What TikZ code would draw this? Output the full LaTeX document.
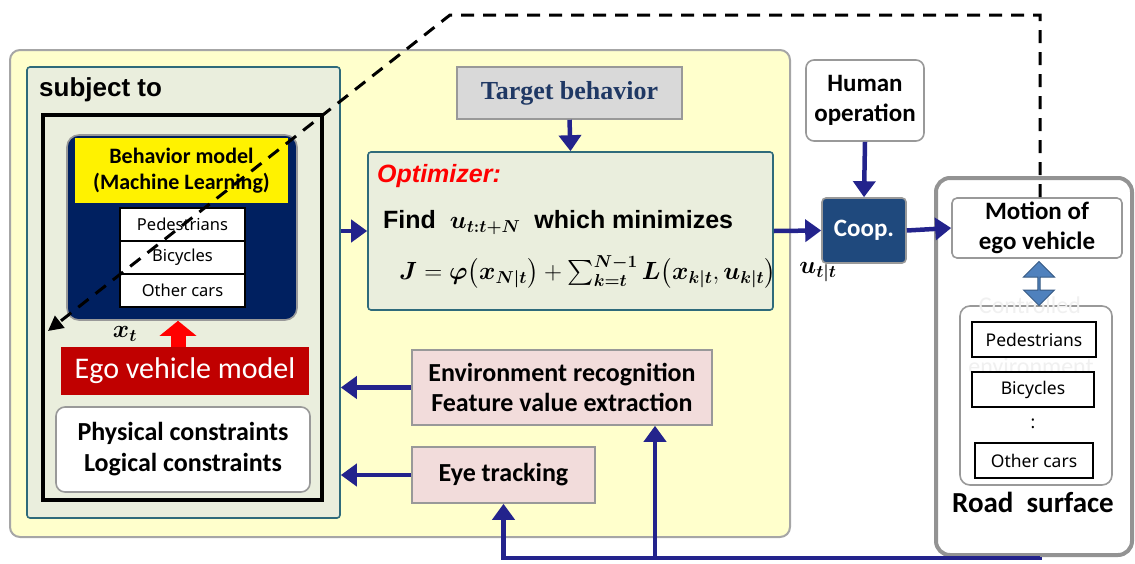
\documentclass[tikz,border=0pt]{standalone}
\usepackage{fontspec}
\setmainfont{Carlito}
\newfontfamily\arialfont{Liberation Sans}
\newfontfamily\timesfont{Liberation Serif}
\newfontfamily\listfont{Noto Sans}
\usepackage{amsmath,bm}
\usetikzlibrary{arrows.meta, positioning, shapes.arrows, calc}
\definecolor{paneyellow}{HTML}{FFFFCC}
\definecolor{subjfill}{HTML}{EAEEDD}
\definecolor{tealline}{HTML}{2F6B7B}
\definecolor{mlnavy}{HTML}{002060}
\definecolor{egored}{HTML}{C00000}
\definecolor{tgttext}{HTML}{1F3864}
\definecolor{coopblue}{HTML}{1F497D}
\definecolor{recogfill}{HTML}{F2DCDB}
\definecolor{flownavy}{HTML}{23238C}
\definecolor{swapblue}{HTML}{4F81BD}
\tikzset{
    panel/.style={
        rectangle,
        rounded corners=10pt,
        draw=gray!70,
        line width=2pt,
        fill=paneyellow
    },
    greenbox/.style={
        rectangle,
        rounded corners=3pt,
        draw=tealline,
        line width=1.6pt,
        fill=subjfill
    },
    whitebox/.style={
        rectangle,
        rounded corners=6pt,
        draw=gray!80,
        line width=1.6pt,
        fill=white,
        align=center,
        font=\bfseries\fontsize{25}{30}\selectfont
    },
    listrow/.style={
        rectangle,
        draw=black,
        line width=1.2pt,
        fill=white,
        font=\listfont\fontsize{16.5}{19}\selectfont
    },
    pinkbox/.style={
        rectangle,
        draw=gray!80,
        line width=1.6pt,
        fill=recogfill,
        align=center,
        font=\bfseries\fontsize{26}{30}\selectfont
    },
    flow/.style={
        -{Triangle[length=16pt, width=22pt]},
        line width=4.5pt,
        draw=flownavy
    }
}

\begin{document}
\begin{tikzpicture}[
    x=1pt, y=-1pt,
    every node/.style={inner sep=0pt},
    dasharrow/.style={-{Triangle[length=15pt, width=15pt]}, line width=3pt, dash pattern=on 13pt off 9pt},
    bigred/.style={-{Triangle[length=15pt, width=36pt]}, line width=15pt, draw=red},
    ghost/.style={text=black!6, font=\fontsize{24}{28}\selectfont}
]
\useasboundingbox (0,0) rectangle (1135,563);

% Prediction side
\node[panel, minimum width=780pt, minimum height=487pt] (panel) at (400,293.5) {};
\node[greenbox, minimum width=313pt, minimum height=451pt] (subj) at (183.5,292.5) {};
\node[font=\arialfont\bfseries\fontsize{26}{30}\selectfont, anchor=west] (subjlbl) at (39,90) {subject to};
\node[draw=black, line width=3.5pt, minimum width=279pt, minimum height=385pt] (model) at (182.5,307.5) {};

\node[rectangle, rounded corners=12pt, draw=gray!80, line width=1.6pt, fill=mlnavy, minimum width=230pt, minimum height=185pt] (navy) at (182,227.5) {};
\node[fill=yellow, minimum width=213pt, minimum height=65pt, align=center, font=\bfseries\fontsize{22}{26}\selectfont] (ml) at (181.5,170.5) {Behavior model\\(Machine Learning)};
\node[listrow, minimum width=125pt, minimum height=33pt] (mlped) at (182.5,224.5) {Pedestrians};
\node[listrow, minimum width=125pt, minimum height=33pt] (mlbic) at (182.5,257.5) {Bicycles};
\node[listrow, minimum width=125pt, minimum height=33pt] (mlcar) at (182.5,290.5) {Other cars};

\node[fill=egored, text=white, minimum width=248pt, minimum height=48pt, font=\fontsize{30}{34}\selectfont] (ego) at (185,371) {Ego vehicle model};
\node[whitebox, minimum width=254pt, minimum height=85pt, rounded corners=9pt, font=\bfseries\fontsize{26}{31}\selectfont] (phys) at (183,449.5) {Physical constraints\\Logical constraints};
\node[font=\fontsize{26}{30}\selectfont] (xt) at (125,334) {$\bm{x_t}$};
\draw[bigred] (ego.north -| 178,0) -- (navy.south -| 178,0);

% Optimizer
\node[rectangle, draw=gray!80, line width=1.6pt, fill=gray!30, minimum width=225pt, minimum height=52pt, font=\timesfont\bfseries\fontsize{26}{30}\selectfont, text=tgttext] (target) at (569.5,93) {Target behavior};
\node[greenbox, minimum width=405pt, minimum height=158pt] (opt) at (570.5,231) {};
\node[anchor=west, text=red, font=\arialfont\bfseries\itshape\fontsize{25}{29}\selectfont] (optlbl) at (377,176) {Optimizer:};
\node[anchor=north west, align=left, font=\arialfont\bfseries\fontsize{25}{51}\selectfont] (find) at (383,210)
    {Find\ \ $\bm{u_{t:t+N}}$\ \ which minimizes\\
     \hspace*{16pt}$\bm{J} = \bm{\varphi}\bigl(\bm{x}_{\bm{N|t}}\bigr) + \textstyle\sum_{\bm{k=t}}^{\bm{N-1}} \bm{L}\bigl(\bm{x}_{\bm{k|t}}, \bm{u}_{\bm{k|t}}\bigr)$};

\node[pinkbox, minimum width=300pt, minimum height=75pt] (recog) at (562,387.5) {Environment recognition\\Feature value extraction};
\node[pinkbox, minimum width=183pt, minimum height=56pt] (eye) at (503.5,475) {Eye tracking};

% Cooperation and road
\node[whitebox, minimum width=118pt, minimum height=81pt, rounded corners=8pt] (human) at (865,100.5) {Human\\operation};
\node[rectangle, rounded corners=4pt, draw=gray!80, line width=1.6pt, fill=coopblue, text=white, minimum width=84pt, minimum height=65pt, font=\bfseries\fontsize{25}{29}\selectfont] (coop) at (864,230.5) {Coop.};
\node[font=\fontsize{25}{29}\selectfont] (ut) at (818,272) {$\bm{u_{t|t}}$};

\node[rectangle, rounded corners=14pt, draw=gray!85, line width=4pt, fill=white, minimum width=196pt, minimum height=377pt] (road) at (1034,366.5) {};
\node[whitebox, minimum width=170pt, minimum height=60pt, rounded corners=5pt] (motion) at (1037,228) {Motion of\\ego vehicle};
\node[rectangle, rounded corners=10pt, draw=gray!80, line width=1.6pt, fill=white, minimum width=152pt, minimum height=179pt] (ctrlenv) at (1036,395.5) {};
\node[ghost] (ctrllbl) at (1030,305) {Controlled};
\node[ghost] (envlbl) at (1031,366) {environment};
\node[listrow, minimum width=124pt, minimum height=35pt, font=\listfont\fontsize{17.5}{20}\selectfont] (rdped) at (1034,339.5) {Pedestrians};
\node[listrow, minimum width=122pt, minimum height=35pt, font=\listfont\fontsize{17.5}{20}\selectfont] (rdbic) at (1033,389.5) {Bicycles};
\node[font=\listfont\fontsize{17.5}{20}\selectfont] (rddots) at (1033,424) {:};
\node[listrow, minimum width=118pt, minimum height=35pt, font=\listfont\fontsize{17.5}{20}\selectfont] (rdcar) at (1034,460.5) {Other cars};
\node[font=\bfseries\fontsize{29}{33}\selectfont] (roadlbl) at (1033,502) {Road\ \ surface};
\node[double arrow, rotate=90, fill=swapblue, draw=swapblue!70!black, line width=1pt, minimum height=44pt, minimum width=31pt, double arrow head extend=7pt] (swap) at (1039,283.5) {};

% Connectors
\draw[flow] (subj.east |- opt.west) -- (opt.west);
\draw[flow] (target.south) -- (opt.north);
\draw[flow] (opt.east) -- (coop.west);
\draw[flow] (human.south) -- (coop.north);
\draw[flow] (coop.east) -- (motion.west);
\draw[flow] (recog.west) -- (recog.west -| subj.east);
\draw[flow] (eye.west) -- (eye.west -| subj.east);
\coordinate (branch) at (655,558);
\draw[flow] (road.south -| 1040,0) |- (branch) -| (eye.south);
\draw[flow] (branch) -- (branch |- recog.south);

% Feedback of the ego motion
\coordinate (dashcorner) at (450,15);
\coordinate (dashend) at (48,331);
\draw[dasharrow] (motion.north -| 1040,0) |- (dashcorner) -- (dashend);

\end{tikzpicture}
\end{document}
